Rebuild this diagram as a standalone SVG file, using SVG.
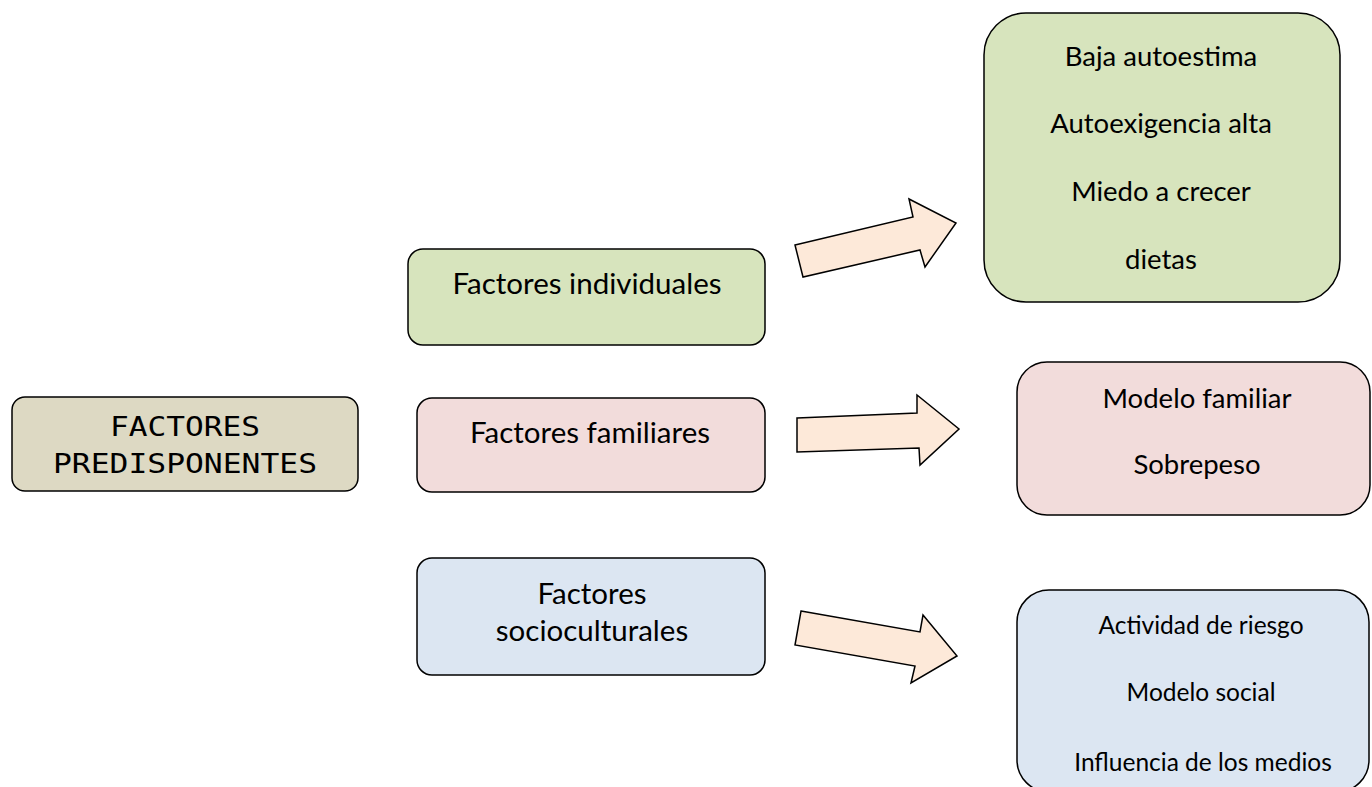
<svg xmlns="http://www.w3.org/2000/svg" width="1372" height="787" viewBox="0 0 1372 787">
<style>
.box{stroke:#000;stroke-width:1.5}
.t{font-family:Lato,"Open Sans","Liberation Sans",sans-serif;fill:#000;text-anchor:middle}
.m{font-family:"DejaVu Sans Mono","Liberation Mono",monospace;fill:#000;text-anchor:middle;font-size:26px}
.arrow{fill:#FDE9D9;stroke:#000;stroke-width:1.5;stroke-linejoin:miter}
</style>
<rect width="1372" height="787" fill="#fff"/>
<g id="predisponentes">
<rect class="box" x="12" y="397" width="346" height="94" rx="13" fill="#DDD9C3"/>
<text class="m" x="185" y="436" textLength="150" lengthAdjust="spacingAndGlyphs">FACTORES</text>
<text class="m" x="185" y="473" textLength="264" lengthAdjust="spacingAndGlyphs">PREDISPONENTES</text>
</g>
<g id="individuales">
<rect class="box" x="408" y="249" width="357" height="96" rx="15" fill="#D7E4BD"/>
<text class="t" x="587" y="294" font-size="29.5">Factores individuales</text>
</g>
<g id="familiares">
<rect class="box" x="417" y="398" width="348" height="94" rx="15" fill="#F2DCDB"/>
<text class="t" x="590" y="443" font-size="29.5">Factores familiares</text>
</g>
<g id="socioculturales">
<rect class="box" x="417" y="558" width="348" height="117" rx="15" fill="#DCE6F2"/>
<text class="t" x="592" y="604" font-size="29.5">Factores</text>
<text class="t" x="592" y="641" font-size="29.5">socioculturales</text>
</g>
<g id="individuales-detalle">
<rect class="box" x="984" y="13" width="356" height="289" rx="42" fill="#D7E4BD"/>
<text class="t" x="1161" y="66" font-size="27.5">Baja autoestima</text>
<text class="t" x="1161" y="133" font-size="27.5">Autoexigencia alta</text>
<text class="t" x="1161" y="201" font-size="27.5">Miedo a crecer</text>
<text class="t" x="1161" y="269" font-size="27.5">dietas</text>
</g>
<g id="familiares-detalle">
<rect class="box" x="1017" y="362" width="353" height="153" rx="30" fill="#F2DCDB"/>
<text class="t" x="1197" y="408" font-size="27.5">Modelo familiar</text>
<text class="t" x="1197" y="474" font-size="27.5">Sobrepeso</text>
</g>
<g id="socioculturales-detalle">
<rect class="box" x="1017" y="590" width="352" height="202" rx="32" fill="#DCE6F2"/>
<text class="t" x="1201" y="634" font-size="24.5">Actividad de riesgo</text>
<text class="t" x="1201" y="701" font-size="24.5">Modelo social</text>
<text class="t" x="1203" y="771" font-size="24.5">Influencia de los medios</text>
</g>
<g id="connectors">
<polygon class="arrow" points="795,245 913,217 909,199 956,223 925,267 920,250 803,277"/>
<polygon class="arrow" points="797,418 917,413 917,395 959,429 920,465 919,448 797,452"/>
<polygon class="arrow" points="801,611 920,632 923,615 957,656 911,683 915,666 795,645"/>
</g>
</svg>
